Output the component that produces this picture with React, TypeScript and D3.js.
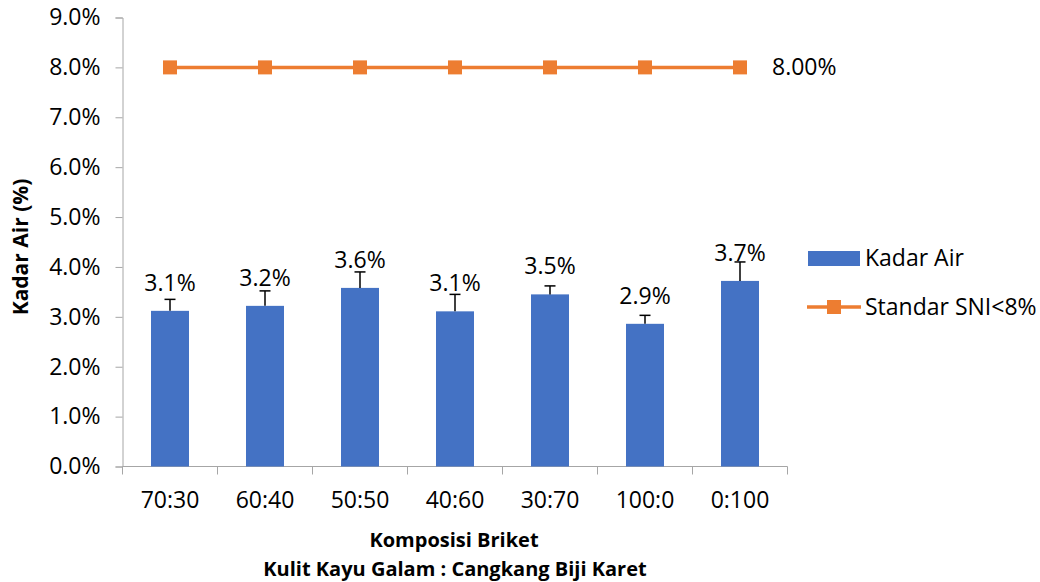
import * as d3 from "d3";
import React, { useEffect, useRef } from "react";

const categories = ["70:30", "60:40", "50:50", "40:60", "30:70", "100:0", "0:100"];
const kadarAir = [3.12, 3.22, 3.58, 3.11, 3.45, 2.86, 3.72];
const errors = [0.23, 0.3, 0.32, 0.34, 0.17, 0.17, 0.38];
const labels = ["3.1%", "3.2%", "3.6%", "3.1%", "3.5%", "2.9%", "3.7%"];
const standarSNI = [8, 8, 8, 8, 8, 8, 8];
const yTicks = [0, 1, 2, 3, 4, 5, 6, 7, 8, 9];

const svgWidth = 1040;
const svgHeight = 582;
const FONT = "'Open Sans', 'Noto Sans', sans-serif";
const FS = "23px";

const App = () => {
  const container = useRef<SVGSVGElement | null>(null);

  useEffect(() => {
    const svg = d3.select(container.current);
    svg.selectAll("*").remove();

    const left = 122.5;
    const right = 787.5;
    const top = 17.5;
    const bottom = 466.5;

    const x = d3.scaleBand().domain(categories).range([left, right]).paddingInner(0.6).paddingOuter(0.3);
    const xBand = d3.scaleBand().domain(categories).range([left, right]);
    const y = d3.scaleLinear().domain([0, 9]).range([bottom, top]);

    const axisColor = "#A6A6A6";

    // y axis
    const yAxis = d3.axisLeft(y).tickValues(yTicks).tickSize(7).tickFormat((d) => (+d).toFixed(1) + "%");
    const gy = svg.append("g").attr("transform", `translate(${left},0)`).call(yAxis);
    gy.select(".domain").attr("stroke", axisColor);
    gy.selectAll(".tick line").attr("stroke", axisColor);
    gy.selectAll(".tick text")
      .attr("x", -22)
      .attr("fill", "#000")
      .style("font-family", FONT)
      .style("font-size", FS);

    // x axis with tick marks on category boundaries
    svg.append("line")
      .attr("x1", left).attr("x2", right)
      .attr("y1", bottom).attr("y2", bottom)
      .attr("stroke", axisColor);
    const bounds = categories.map((c) => xBand(c) as number).concat([right]);
    svg.selectAll(".xtick")
      .data(bounds)
      .enter()
      .append("line")
      .attr("x1", (d) => d).attr("x2", (d) => d)
      .attr("y1", bottom).attr("y2", bottom + 8)
      .attr("stroke", axisColor);
    svg.selectAll(".xlabel")
      .data(categories)
      .enter()
      .append("text")
      .attr("x", (d) => (xBand(d) as number) + xBand.bandwidth() / 2)
      .attr("y", 508)
      .attr("text-anchor", "middle")
      .style("font-family", FONT)
      .style("font-size", FS)
      .text((d) => d);

    // bars
    svg.selectAll(".bar")
      .data(kadarAir)
      .enter()
      .append("rect")
      .attr("x", (d, i) => x(categories[i]) as number)
      .attr("width", x.bandwidth())
      .attr("y", (d) => y(d))
      .attr("height", (d) => bottom - y(d))
      .attr("fill", "#4472C4");

    // error bars (plus only)
    const cx = (i: number) => (xBand(categories[i]) as number) + xBand.bandwidth() / 2;
    kadarAir.forEach((v, i) => {
      svg.append("line")
        .attr("x1", cx(i)).attr("x2", cx(i))
        .attr("y1", y(v)).attr("y2", y(v + errors[i]))
        .attr("stroke", "#000").attr("stroke-width", 1.5);
      svg.append("line")
        .attr("x1", cx(i) - 5.5).attr("x2", cx(i) + 5.5)
        .attr("y1", y(v + errors[i])).attr("y2", y(v + errors[i]))
        .attr("stroke", "#000").attr("stroke-width", 1.5);
    });

    // data labels
    svg.selectAll(".dlabel")
      .data(kadarAir)
      .enter()
      .append("text")
      .attr("x", (d, i) => cx(i))
      .attr("y", (d) => y(d) - 20)
      .attr("text-anchor", "middle")
      .style("font-family", FONT)
      .style("font-size", FS)
      .text((d, i) => labels[i]);

    // SNI line
    const line = d3.line<number>().x((d, i) => cx(i)).y((d) => y(d));
    svg.append("path")
      .datum(standarSNI)
      .attr("d", line)
      .attr("fill", "none")
      .attr("stroke", "#ED7D31")
      .attr("stroke-width", 3.5);
    svg.selectAll(".marker")
      .data(standarSNI)
      .enter()
      .append("rect")
      .attr("x", (d, i) => cx(i) - 7)
      .attr("y", (d) => y(d) - 7)
      .attr("width", 14)
      .attr("height", 14)
      .attr("fill", "#ED7D31");
    svg.append("text")
      .attr("x", 772)
      .attr("y", y(standarSNI[6]) + 8)
      .style("font-family", FONT)
      .style("font-size", FS)
      .text(standarSNI[6].toFixed(2) + "%");

    // legend
    svg.append("rect")
      .attr("x", 808).attr("y", 251).attr("width", 52).attr("height", 15)
      .attr("fill", "#4472C4");
    svg.append("text")
      .attr("x", 865).attr("y", 266)
      .style("font-family", FONT).style("font-size", FS)
      .text("Kadar Air");
    svg.append("line")
      .attr("x1", 807).attr("x2", 861).attr("y1", 307).attr("y2", 307)
      .attr("stroke", "#ED7D31").attr("stroke-width", 3.5);
    svg.append("rect")
      .attr("x", 827).attr("y", 300).attr("width", 14).attr("height", 14)
      .attr("fill", "#ED7D31");
    svg.append("text")
      .attr("x", 865).attr("y", 315)
      .style("font-family", FONT).style("font-size", FS)
      .text("Standar SNI<8%");

    // axis titles
    svg.append("text")
      .attr("transform", `translate(28,${(top + bottom) / 2 + 5}) rotate(-90)`)
      .attr("text-anchor", "middle")
      .style("font-family", FONT).style("font-size", "21px").style("font-weight", "bold")
      .text("Kadar Air (%)");
    svg.append("text")
      .attr("x", 454).attr("y", 547)
      .attr("text-anchor", "middle")
      .style("font-family", FONT).style("font-size", "20px").style("font-weight", "bold")
      .text("Komposisi Briket");
    svg.append("text")
      .attr("x", 455).attr("y", 576)
      .attr("text-anchor", "middle")
      .style("font-family", FONT).style("font-size", "20px").style("font-weight", "bold")
      .text("Kulit Kayu Galam : Cangkang Biji Karet");
  }, []);

  return (
    <svg
      ref={container}
      width={svgWidth}
      height={svgHeight}
      style={{ position: "absolute", left: 0, top: 0, background: "#fff" }}
    />
  );
};

export default App;
